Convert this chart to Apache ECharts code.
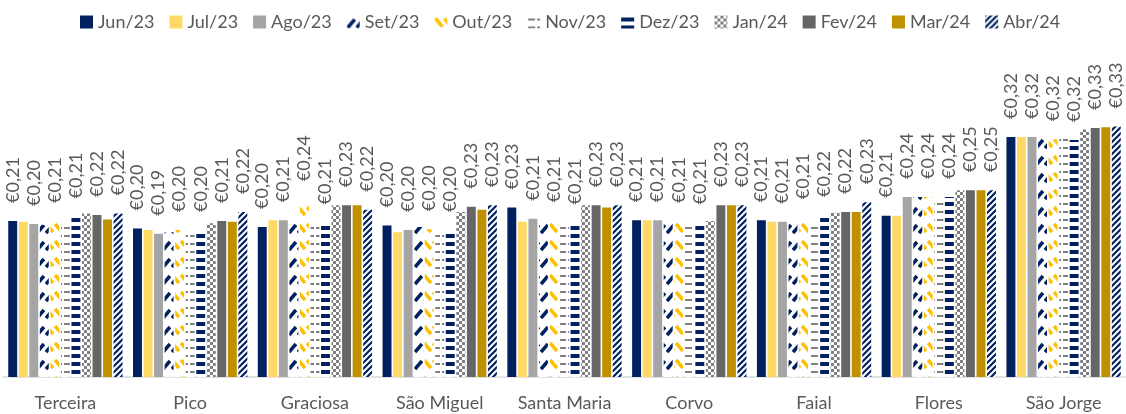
<!DOCTYPE html>
<html><head><meta charset="utf-8">
<script src="https://cdn.jsdelivr.net/npm/echarts@6/dist/echarts.min.js"></script>
<style>html,body{margin:0;padding:0;background:#fff}#c{width:1126px;height:414px}</style>
</head><body><div id="c"></div>
<script>
const categories = ['Terceira','Pico','Graciosa','São Miguel','Santa Maria','Corvo','Faial','Flores','São Jorge'];
const months = ['Jun/23','Jul/23','Ago/23','Set/23','Out/23','Nov/23','Dez/23','Jan/24','Fev/24','Mar/24','Abr/24'];
const jun23 = [0.208, 0.198, 0.200, 0.202, 0.226, 0.209, 0.209, 0.215, 0.320];
const jul23 = [0.207, 0.196, 0.209, 0.193, 0.207, 0.209, 0.207, 0.215, 0.320];
const ago23 = [0.204, 0.191, 0.209, 0.196, 0.211, 0.209, 0.207, 0.240, 0.320];
const set23 = [0.203, 0.193, 0.208, 0.200, 0.211, 0.207, 0.207, 0.240, 0.320];
const out23 = [0.208, 0.196, 0.237, 0.197, 0.209, 0.208, 0.213, 0.240, 0.317];
const nov23 = [0.205, 0.195, 0.205, 0.195, 0.205, 0.205, 0.205, 0.240, 0.318];
const dez23 = [0.214, 0.196, 0.206, 0.196, 0.206, 0.206, 0.216, 0.240, 0.316];
const jan24 = [0.218, 0.205, 0.229, 0.220, 0.229, 0.208, 0.219, 0.249, 0.330];
const fev24 = [0.216, 0.208, 0.229, 0.227, 0.229, 0.229, 0.220, 0.249, 0.332];
const mar24 = [0.210, 0.207, 0.229, 0.223, 0.226, 0.229, 0.220, 0.249, 0.333];
const abr24 = [0.218, 0.220, 0.223, 0.229, 0.229, 0.229, 0.233, 0.249, 0.334];
const seriesValues = [jun23, jul23, ago23, set23, out23, nov23, dez23, jan24, fev24, mar24, abr24];

const NAVY = '#002060', GOLD = '#FFC000', GREY = '#7F7F7F';
function tile(w, h, draw) {
  const c = document.createElement('canvas');
  c.width = w; c.height = h;
  const g = c.getContext('2d');
  g.fillStyle = '#fff'; g.fillRect(0, 0, w, h);
  draw(g);
  return { image: c, repeat: 'repeat' };
}
const fills = [
  '#002060',
  '#FFD966',
  '#A5A5A5',
  tile(9, 17, g => { g.strokeStyle = NAVY; g.lineWidth = 3.6; g.beginPath(); g.moveTo(1, 12); g.lineTo(8, 4); g.stroke(); }),
  tile(9, 17, g => { g.strokeStyle = GOLD; g.lineWidth = 3.6; g.beginPath(); g.moveTo(1, 3); g.lineTo(8, 11); g.stroke(); }),
  tile(9, 8, g => { g.fillStyle = GREY; g.fillRect(1, 3, 7, 2); }),
  tile(9, 8, g => { g.fillStyle = NAVY; g.fillRect(0, 2, 9, 4); }),
  tile(6, 6, g => { g.fillStyle = GREY; g.fillRect(0, 0, 3, 3); g.fillRect(3, 3, 3, 3); }),
  '#666666',
  '#BF9000',
  tile(6, 6, g => { g.strokeStyle = NAVY; g.lineWidth = 2.2; g.beginPath(); g.moveTo(-1, 7); g.lineTo(7, -1); g.moveTo(-4, 4); g.lineTo(4, -4); g.moveTo(2, 10); g.lineTo(10, 2); g.stroke(); })
];

const FONT = 'Lato';
const labelIdx = [0, 2, 4, 6, 8, 10];
const series = months.map((m, i) => ({
  name: m,
  type: 'bar',
  barGap: '18%',
  barCategoryGap: '8.4%',
  itemStyle: { color: fills[i] },
  label: {
    show: labelIdx.includes(i),
    position: 'top',
    rotate: 90,
    align: 'left',
    verticalAlign: 'middle',
    distance: 18,
    color: '#595959',
    fontFamily: FONT,
    fontSize: 18,
    formatter: p => '€' + p.value.toFixed(2).replace('.', ',')
  },
  data: seriesValues[i]
}));

const chart = echarts.init(document.getElementById('c'), null, { renderer: 'canvas' });
chart.setOption({
  animation: false,
  backgroundColor: '#fff',
  legend: {
    top: 8,
    left: 75,
    icon: 'rect',
    itemWidth: 13,
    itemHeight: 13,
    itemGap: 15,
    textStyle: { color: '#595959', fontFamily: FONT, fontSize: 18 },
    data: months
  },
  grid: { left: 3, top: 77, width: 1130.4, height: 300, containLabel: false },
  xAxis: {
    type: 'category',
    data: categories,
    axisLine: { lineStyle: { color: '#D9D9D9', width: 1.5 } },
    axisTick: { show: false },
    axisLabel: { color: '#595959', fontFamily: FONT, fontSize: 18, margin: 17, interval: 0 }
  },
  yAxis: {
    type: 'value', min: 0, max: 0.4, interval: 0.1,
    show: false, splitLine: { show: false }
  },
  series
});
</script></body></html>
